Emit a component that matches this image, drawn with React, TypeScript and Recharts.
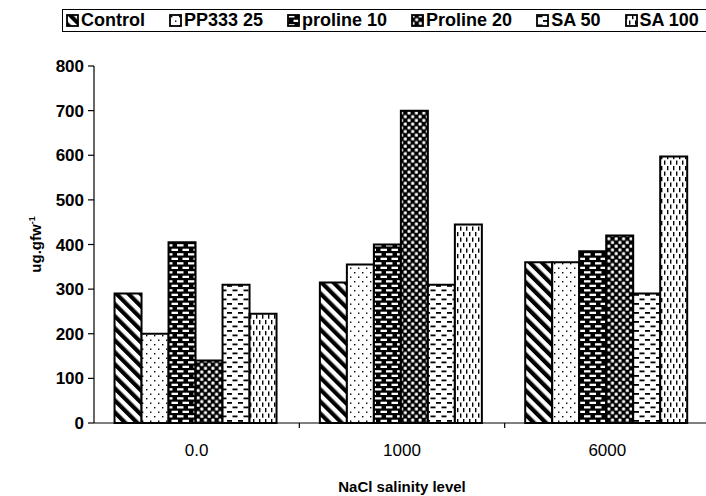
import React from 'react';
import { BarChart, Bar, XAxis, YAxis } from 'recharts';

const categories = ['0.0', '1000', '6000'];
const control = [290, 315, 360];
const pp333 = [200, 355, 360];
const proline10 = [405, 400, 385];
const proline20 = [140, 700, 420];
const sa50 = [310, 310, 290];
const sa100 = [245, 445, 597];
const yTicks = [0, 100, 200, 300, 400, 500, 600, 700, 800];

const seriesNames = ['Control', 'PP333 25', 'proline 10', 'Proline 20', 'SA 50', 'SA 100'];
const seriesKeys = ['control', 'pp333', 'proline10', 'proline20', 'sa50', 'sa100'];
const patternIds = ['patControl', 'patPP', 'patBrick', 'patCheck', 'patSA50', 'patSA100'];

const data = categories.map((c, i) => ({
  cat: c,
  control: control[i],
  pp333: pp333[i],
  proline10: proline10[i],
  proline20: proline20[i],
  sa50: sa50[i],
  sa100: sa100[i],
}));

const FONT = '"Liberation Sans", Arial, sans-serif';

const Patterns = () => (
  <defs>
    <pattern id="patControl" patternUnits="userSpaceOnUse" width="8.5" height="8.5" patternTransform="rotate(-45)">
      <rect x="0" y="0" width="8.5" height="8.5" fill="#fff" />
      <rect x="0" y="0" width="4.2" height="8.5" fill="#000" />
    </pattern>
    <pattern id="patPP" patternUnits="userSpaceOnUse" width="8" height="9">
      <rect x="0" y="0" width="8" height="9" fill="#fff" />
      <rect x="2" y="2" width="1.4" height="1.4" fill="#000" />
      <rect x="6" y="6.5" width="1.4" height="1.4" fill="#000" />
    </pattern>
    <pattern id="patBrick" patternUnits="userSpaceOnUse" width="11" height="9">
      <rect x="0" y="0" width="11" height="9" fill="#000" />
      <rect x="1" y="1.2" width="6.5" height="2.3" fill="#fff" />
      <rect x="6.5" y="5.7" width="6.5" height="2.3" fill="#fff" />
      <rect x="-4.5" y="5.7" width="6.5" height="2.3" fill="#fff" />
    </pattern>
    <pattern id="patCheck" patternUnits="userSpaceOnUse" width="7.4" height="7.4">
      <rect x="0" y="0" width="7.4" height="7.4" fill="#000" />
      <rect x="0.5" y="0.5" width="3" height="3" rx="0.8" fill="#fff" />
      <rect x="4.2" y="4.2" width="3" height="3" rx="0.8" fill="#fff" />
    </pattern>
    <pattern id="patSA50" patternUnits="userSpaceOnUse" width="11" height="9">
      <rect x="0" y="0" width="11" height="9" fill="#fff" />
      <rect x="1.5" y="1.5" width="5" height="1.8" fill="#000" />
      <rect x="7" y="6" width="5" height="1.8" fill="#000" />
      <rect x="-4" y="6" width="5" height="1.8" fill="#000" />
    </pattern>
    <pattern id="patSA100" patternUnits="userSpaceOnUse" width="6" height="11">
      <rect x="0" y="0" width="6" height="11" fill="#fff" />
      <rect x="1" y="1" width="1.4" height="4.2" fill="#000" />
      <rect x="4" y="6.5" width="1.4" height="4.2" fill="#000" />
    </pattern>
  </defs>
);

const XTick = (props: any) => {
  const { x, y, payload } = props;
  const off = payload.offset || 0;
  return (
    <g>
      <line x1={x + off} y1={y} x2={x + off} y2={y + 5} stroke="#000" strokeWidth={1.2} />
      <text x={x} y={y + 33} textAnchor="middle" fontFamily={FONT} fontSize={17} fill="#000">
        {payload.value}
      </text>
    </g>
  );
};

const YLabel = (props: any) => {
  const vb = props.viewBox;
  const cx = 41;
  const cy = vb.y + vb.height / 2;
  return (
    <text
      x={cx}
      y={cy}
      transform={`rotate(-90, ${cx}, ${cy})`}
      textAnchor="middle"
      fontFamily={FONT}
      fontWeight="bold"
      fontSize={15}
      fill="#000"
    >
      ug.gfw<tspan dy={-6} fontSize={9}>-1</tspan>
    </text>
  );
};

const XLabel = (props: any) => {
  const vb = props.viewBox;
  return (
    <text
      x={vb.x + vb.width / 2}
      y={492}
      textAnchor="middle"
      fontFamily={FONT}
      fontWeight="bold"
      fontSize={15}
      fill="#000"
    >
      NaCl salinity level
    </text>
  );
};

const LegendBox = () => (
  <div
    style={{
      position: 'absolute',
      left: 62,
      top: 9,
      width: 660,
      height: 23,
      border: '1.5px solid #000',
      boxSizing: 'border-box',
      display: 'flex',
      alignItems: 'center',
      paddingLeft: 3,
      fontFamily: FONT,
      fontSize: 18,
      fontWeight: 'bold',
      color: '#000',
      whiteSpace: 'nowrap',
    }}
  >
    {seriesNames.map((n, i) => (
      <span key={n} style={{ display: 'inline-flex', alignItems: 'center', marginRight: 24 }}>
        <svg width={13} height={13} style={{ marginRight: 2 }}>
          <rect x={1} y={1} width={11} height={11} fill={`url(#${patternIds[i]})`} stroke="#000" strokeWidth={1.8} />
        </svg>
        {n}
      </span>
    ))}
  </div>
);

export default function App() {
  return (
    <div style={{ position: 'absolute', left: 0, top: 0, width: 706, height: 496, overflow: 'hidden', background: '#fff' }}>
      <BarChart
        width={720}
        height={496}
        data={data}
        margin={{ top: 66, right: 10, bottom: 0, left: 0 }}
        barCategoryGap="10%"
        barGap={0}
      >
        <Patterns />
        <XAxis
          dataKey="cat"
          height={73}
          tickLine={false}
          tickSize={0}
          tickMargin={0}
          tick={<XTick />}
          axisLine={{ stroke: '#000', strokeWidth: 1.2 }}
          interval={0}
          label={<XLabel />}
        />
        <YAxis
          width={94}
          domain={[0, 800]}
          ticks={yTicks}
          interval={0}
          tickSize={6}
          tickMargin={4}
          axisLine={{ stroke: '#000', strokeWidth: 1.2 }}
          tickLine={{ stroke: '#000', strokeWidth: 1.2 }}
          tick={{ fill: '#000', fontFamily: FONT, fontSize: 17, fontWeight: 'bold' }}
          label={<YLabel />}
        />
        {seriesKeys.map((k, i) => (
          <Bar
            key={k}
            dataKey={k}
            name={seriesNames[i]}
            fill={`url(#${patternIds[i]})`}
            stroke="#000"
            strokeWidth={2}
            isAnimationActive={false}
          />
        ))}
      </BarChart>
      <LegendBox />
    </div>
  );
}
